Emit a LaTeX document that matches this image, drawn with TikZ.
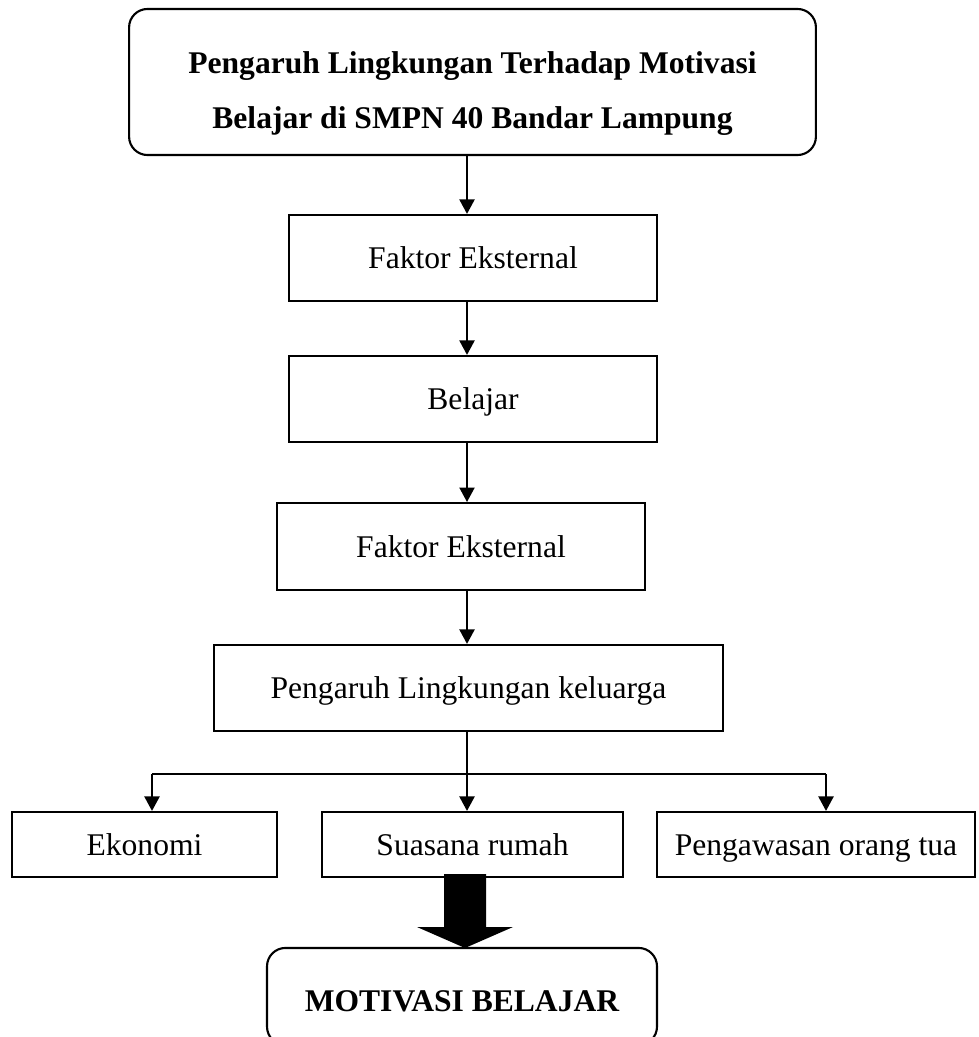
\documentclass[tikz,border=0pt]{standalone}
\usepackage{fontspec}
\setmainfont{Liberation Serif}
\usetikzlibrary{arrows.meta}

\tikzset{
  kotak/.style={draw, line width=0.8pt, align=center, inner sep=0pt,
    font=\fontsize{12}{14}\selectfont},
  baris/.style={text height=10.8pt, text depth=2.7pt},
  judul/.style={kotak, rounded corners=7pt,
    font=\fontsize{12}{21}\selectfont\bfseries},
  panah/.style={-{Triangle[length=5.5pt,width=5.7pt]}, line width=0.8pt},
}

\begin{document}
\begin{tikzpicture}[x=0.38pt, y=-0.38pt]
  \useasboundingbox (0,0) rectangle (978,1037);
  \coordinate (trunk) at (467,0);

  \node[judul, minimum width=261pt, minimum height=55.5pt] (atas) at (472.5,82)
    {\rule{0pt}{17pt}Pengaruh Lingkungan Terhadap Motivasi\\Belajar di SMPN 40 Bandar Lampung};
  \node[kotak, baris, minimum width=139.8pt, minimum height=32.7pt] (eks1) at (473,258) {Faktor Eksternal};
  \node[kotak, baris, minimum width=139.8pt, minimum height=32.7pt] (bel) at (473,399) {Belajar};
  \node[kotak, baris, minimum width=139.8pt, minimum height=33pt] (eks2) at (461,546.5) {Faktor Eksternal};
  \node[kotak, baris, minimum width=193.4pt, minimum height=32.7pt] (kel) at (468.5,688) {Pengaruh Lingkungan keluarga};

  \node[kotak, baris, minimum width=100.7pt, minimum height=24.7pt] (eko) at (144.5,844.5) {Ekonomi};
  \node[kotak, baris, minimum width=114.4pt, minimum height=24.7pt] (rumah) at (472.5,844.5) {Suasana rumah};
  \node[kotak, baris, minimum width=120.8pt, minimum height=24.7pt] (awas) at (816,844.5) {Pengawasan orang tua};

  \node[judul, baris, text height=13.8pt, minimum width=148.2pt, minimum height=36.9pt] (motiv) at (462,996.5) {MOTIVASI BELAJAR};

  % alur utama
  \draw[panah] (atas.south -| trunk) -- (eks1.north -| trunk);
  \draw[panah] (eks1.south -| trunk) -- (bel.north -| trunk);
  \draw[panah] (bel.south -| trunk) -- (eks2.north -| trunk);
  \draw[panah] (eks2.south -| trunk) -- (kel.north -| trunk);
  \draw[panah] (kel.south -| trunk) -- (rumah.north -| trunk);

  % cabang
  \coordinate (kiri) at (152,774);
  \coordinate (kanan) at (826,774);
  \draw[line width=0.8pt] (kiri) -- (kanan);
  \draw[panah] (kiri) -- (eko.north -| kiri);
  \draw[panah] (kanan) -- (awas.north -| kanan);

  % panah tebal
  \coordinate (ujung) at (465,948);
  \fill (444,874) -- (486,874) -- (486,927) -- (513,927) -- (ujung)
    -- (417,927) -- (444,927) -- cycle;
\end{tikzpicture}
\end{document}
